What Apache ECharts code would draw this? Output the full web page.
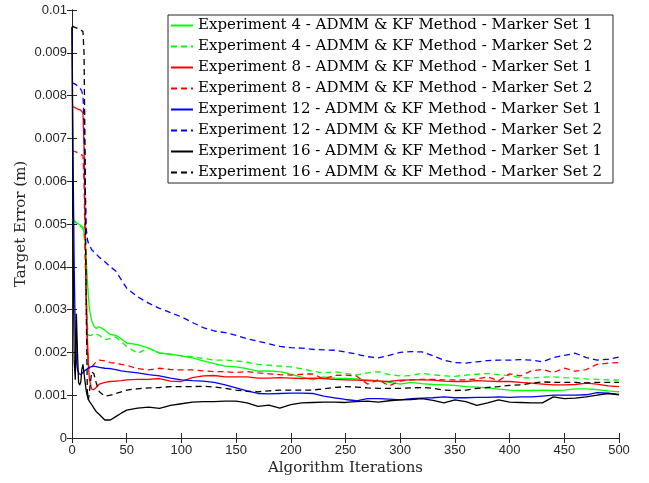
<!DOCTYPE html>
<html>
<head>
<meta charset="utf-8">
<title>Target Error vs Algorithm Iterations</title>
<script src="https://cdn.jsdelivr.net/npm/echarts@6/dist/echarts.min.js"></script>
<style>
  html, body { margin: 0; padding: 0; background: #fff; }
  #chart { width: 649px; height: 483px; }
</style>
</head>
<body>
<div id="chart"></div>
<script>
// iteration grid shared by all curves
const iterations = [0, 1, 2, 3, 4, 5, 6, 7, 8, 9, 10, 11, 12, 13, 14, 15, 16, 18, 20, 22, 25, 30, 35, 40, 45,
  50, 60, 70, 80, 90, 100, 110, 120, 130, 140, 150, 160, 170, 180, 190, 200, 210, 220, 230, 240, 250,
  260, 270, 280, 290, 300, 310, 320, 330, 340, 350, 360, 370, 380, 390, 400, 410, 420, 430, 440, 450,
  460, 470, 480, 490, 500]

const xTicks = [0, 50, 100, 150, 200, 250, 300, 350, 400, 450, 500]

const seriesNames = [
  'Experiment 4 - ADMM & KF Method - Marker Set 1',
  'Experiment 4 - ADMM & KF Method - Marker Set 2',
  'Experiment 8 - ADMM & KF Method - Marker Set 1',
  'Experiment 8 - ADMM & KF Method - Marker Set 2',
  'Experiment 12 - ADMM & KF Method - Marker Set 1',
  'Experiment 12 - ADMM & KF Method - Marker Set 2',
  'Experiment 16 - ADMM & KF Method - Marker Set 1',
  'Experiment 16 - ADMM & KF Method - Marker Set 2'
]

// target error (m), one value per iteration above
const exp4Set1 = [0.00512, 0.0051, 0.00508, 0.00505, 0.00503, 0.00502, 0.005, 0.00498, 0.00497, 0.00495, 0.00493, 0.0049, 0.0046, 0.0042, 0.0037, 0.0033, 0.003, 0.00274, 0.00262, 0.00256, 0.0026, 0.00252, 0.00242, 0.0024, 0.00232,
  0.00222, 0.00218, 0.0021, 0.00198, 0.00196, 0.00192, 0.00187, 0.0018, 0.00174, 0.00168, 0.00166, 0.00162, 0.00156, 0.00157, 0.00155, 0.00149, 0.00142, 0.00136, 0.00143, 0.0014, 0.00139,
  0.00138, 0.00136, 0.00134, 0.0013, 0.00126, 0.0013, 0.00127, 0.00125, 0.00124, 0.00123, 0.0012, 0.00119, 0.00117, 0.00114, 0.00112, 0.00111, 0.00111, 0.00112, 0.00111, 0.00112,
  0.00115, 0.00115, 0.00113, 0.0011, 0.00108]
const exp4Set2 = [0.0051, 0.00508, 0.00506, 0.00504, 0.00502, 0.005, 0.00498, 0.00496, 0.00494, 0.00492, 0.0049, 0.0048, 0.0042, 0.0033, 0.0026, 0.0024, 0.00237, 0.0024, 0.00244, 0.00243, 0.0024, 0.0023, 0.00232, 0.00236, 0.00225,
  0.00214, 0.00198, 0.0021, 0.00199, 0.00195, 0.00192, 0.0019, 0.00186, 0.00182, 0.00182, 0.0018, 0.00177, 0.00172, 0.0017, 0.00168, 0.00166, 0.00162, 0.00156, 0.00152, 0.00155, 0.00151,
  0.00147, 0.00152, 0.00155, 0.00148, 0.00145, 0.00146, 0.00151, 0.00148, 0.00145, 0.00144, 0.00147, 0.00149, 0.00151, 0.00148, 0.00146, 0.00141, 0.0014, 0.00142, 0.00143, 0.00141,
  0.0014, 0.00138, 0.00137, 0.00136, 0.00135]
const exp8Set1 = [0.00774, 0.00774, 0.00773, 0.00772, 0.0077, 0.00769, 0.00768, 0.00767, 0.00766, 0.00763, 0.0076, 0.0068, 0.005, 0.0035, 0.0024, 0.0017, 0.00135, 0.00114, 0.00113, 0.00118, 0.00126, 0.0013, 0.00132, 0.00133, 0.00134,
  0.00136, 0.00137, 0.00137, 0.00139, 0.00133, 0.00132, 0.00141, 0.00145, 0.00146, 0.00143, 0.00143, 0.00143, 0.0014, 0.0014, 0.00141, 0.0014, 0.00139, 0.0014, 0.00139, 0.00137, 0.00136,
  0.00135, 0.00134, 0.00133, 0.00132, 0.00135, 0.00136, 0.00136, 0.00135, 0.00133, 0.00132, 0.00132, 0.00134, 0.00133, 0.00132, 0.00132, 0.0013, 0.00128, 0.00126, 0.00124, 0.00124,
  0.00125, 0.00128, 0.00126, 0.00122, 0.0012]
const exp8Set2 = [0.00673, 0.00672, 0.0067, 0.00669, 0.00668, 0.00667, 0.00665, 0.00664, 0.00662, 0.00661, 0.0066, 0.006, 0.0045, 0.003, 0.0021, 0.0017, 0.0016, 0.00165, 0.00172, 0.00178, 0.00182, 0.0018, 0.00176, 0.00175, 0.00172,
  0.0017, 0.00162, 0.00159, 0.00163, 0.0016, 0.00159, 0.00159, 0.00157, 0.00155, 0.00155, 0.00153, 0.00155, 0.00152, 0.0015, 0.00148, 0.00147, 0.00149, 0.0015, 0.00138, 0.00146, 0.00147,
  0.00145, 0.00126, 0.00136, 0.00122, 0.00133, 0.00136, 0.00137, 0.00137, 0.00136, 0.00136, 0.00136, 0.00138, 0.00143, 0.00134, 0.0015, 0.00145, 0.00157, 0.0016, 0.00153, 0.00163,
  0.00156, 0.0016, 0.00172, 0.00175, 0.00176]
const exp12Set1 = [0.0096, 0.0065, 0.004, 0.0025, 0.0018, 0.0016, 0.00152, 0.00148, 0.00148, 0.0015, 0.00153, 0.00156, 0.00158, 0.0016, 0.00162, 0.00163, 0.00165, 0.00167, 0.00168, 0.00167, 0.00165, 0.00163, 0.00162, 0.0016, 0.00157,
  0.00155, 0.00152, 0.00148, 0.00145, 0.0014, 0.00136, 0.00134, 0.00133, 0.0013, 0.00124, 0.00117, 0.0011, 0.00104, 0.00103, 0.00104, 0.00105, 0.00105, 0.00104, 0.00098, 0.00094, 0.0009,
  0.00087, 0.00092, 0.00092, 0.00091, 0.00089, 0.00092, 0.00093, 0.00094, 0.00096, 0.00094, 0.00094, 0.00095, 0.00095, 0.00096, 0.00095, 0.00096, 0.00096, 0.00098, 0.001, 0.001,
  0.001, 0.00101, 0.00106, 0.00105, 0.00102]
const exp12Set2 = [0.0083, 0.00829, 0.00828, 0.00826, 0.00825, 0.00822, 0.0082, 0.00818, 0.00815, 0.0081, 0.008, 0.0074, 0.006, 0.0049, 0.00465, 0.00455, 0.0045, 0.0044, 0.00435, 0.0043, 0.00422, 0.00412, 0.004, 0.0039, 0.0037,
  0.0035, 0.0033, 0.00315, 0.00303, 0.00293, 0.00283, 0.0027, 0.00258, 0.0025, 0.00246, 0.0024, 0.00232, 0.00226, 0.0022, 0.00214, 0.00211, 0.0021, 0.00207, 0.00206, 0.00205, 0.00201,
  0.00196, 0.0019, 0.00187, 0.00193, 0.002, 0.00202, 0.00201, 0.00192, 0.00182, 0.00176, 0.00175, 0.00178, 0.00181, 0.00182, 0.00182, 0.00183, 0.00182, 0.00178, 0.00188, 0.00193,
  0.00198, 0.00188, 0.00182, 0.00184, 0.00189]
const exp16Set1 = [0.0096, 0.0045, 0.0018, 0.00136, 0.0029, 0.002, 0.0013, 0.00124, 0.0013, 0.0016, 0.00172, 0.00168, 0.0013, 0.0011, 0.00098, 0.0009, 0.00085, 0.00078, 0.0007, 0.00062, 0.00055, 0.00042, 0.00042, 0.0005, 0.00058,
  0.00065, 0.0007, 0.00072, 0.00069, 0.00076, 0.0008, 0.00084, 0.00085, 0.00085, 0.00086, 0.00086, 0.00082, 0.00074, 0.00077, 0.0007, 0.00078, 0.00082, 0.00083, 0.00084, 0.00084, 0.00083,
  0.00085, 0.00086, 0.00084, 0.00087, 0.00089, 0.0009, 0.00092, 0.00088, 0.00082, 0.00089, 0.00085, 0.00076, 0.00082, 0.00089, 0.00084, 0.00083, 0.00082, 0.00082, 0.00096, 0.00092,
  0.00093, 0.00096, 0.001, 0.00104, 0.00101]
const exp16Set2 = [0.00963, 0.00962, 0.0096, 0.00959, 0.00958, 0.00957, 0.00956, 0.00955, 0.00953, 0.00952, 0.0095, 0.009, 0.0065, 0.003, 0.0011, 0.00089, 0.0011, 0.00155, 0.0015, 0.0013, 0.00108, 0.00098, 0.001, 0.00104, 0.00108,
  0.00112, 0.00115, 0.00117, 0.00118, 0.0012, 0.0012, 0.0012, 0.00121, 0.00119, 0.00116, 0.00112, 0.00109, 0.00108, 0.0011, 0.00112, 0.00112, 0.00112, 0.00112, 0.00115, 0.00118, 0.0012,
  0.00119, 0.00117, 0.00116, 0.00116, 0.00116, 0.00117, 0.00118, 0.00116, 0.00112, 0.00111, 0.00112, 0.00116, 0.00118, 0.0012, 0.00123, 0.00124, 0.00128, 0.00131, 0.0013, 0.0013,
  0.0013, 0.00129, 0.0013, 0.0013, 0.0013]

const seriesValues = [exp4Set1, exp4Set2, exp8Set1, exp8Set2, exp12Set1, exp12Set2, exp16Set1, exp16Set2]
const seriesColors = ['#00ff00', '#00ff00', '#ff0000', '#ff0000', '#0000ff', '#0000ff', '#000000', '#000000']
const seriesDashed = [false, true, false, true, false, true, false, true]

const axisColor = '#262626'
const serifFont = 'DejaVu Serif'
const sansFont = 'Liberation Sans'

const chart = echarts.init(document.getElementById('chart'), null, { renderer: 'canvas' })

const series = seriesValues.map((vals, i) => ({
  name: seriesNames[i],
  type: 'line',
  xAxisIndex: 0,
  yAxisIndex: 0,
  symbol: 'none',
  animation: false,
  data: iterations.map((it, k) => [it, vals[k]]),
  lineStyle: {
    color: seriesColors[i],
    width: 1.3,
    type: seriesDashed[i] ? [6, 4] : 'solid'
  },
  itemStyle: { color: seriesColors[i] }
}))

// box axes (top/right) only carry ticks, like the MATLAB frame
const boxAxis = {
  min: 0,
  axisLine: { show: true, lineStyle: { color: axisColor, width: 1 } },
  axisTick: { show: true, inside: true, length: 5, lineStyle: { color: axisColor } },
  axisLabel: { show: false },
  splitLine: { show: false }
}

chart.setOption({
  backgroundColor: '#fff',
  animation: false,
  grid: { left: 72, right: 30, top: 10, bottom: 45 },
  legend: {
    orient: 'vertical',
    left: 168,
    top: 15,
    data: seriesNames,
    itemWidth: 22,
    itemHeight: 12,
    itemGap: 6,
    padding: [3, 11, 3, 2],
    borderColor: axisColor,
    borderWidth: 1,
    backgroundColor: '#fff',
    // hide the default circle marker, keep only the line sample
    itemStyle: { opacity: 0 },
    textStyle: { fontFamily: serifFont, fontSize: 15, color: '#000' }
  },
  xAxis: [
    {
      type: 'value',
      min: 0,
      max: 500,
      interval: 50,
      name: 'Algorithm Iterations',
      nameLocation: 'middle',
      nameGap: 23,
      nameMoveOverlap: false,
      nameTextStyle: { fontFamily: serifFont, fontSize: 15, color: axisColor },
      axisLine: { show: true, lineStyle: { color: axisColor, width: 1 } },
      axisTick: { show: true, inside: true, length: 5, lineStyle: { color: axisColor } },
      axisLabel: {
        fontFamily: sansFont, fontSize: 13, color: axisColor, margin: 6,
        customValues: xTicks
      },
      splitLine: { show: false }
    },
    Object.assign({ type: 'value', position: 'top', max: 500, interval: 50 }, boxAxis)
  ],
  yAxis: [
    {
      type: 'value',
      min: 0,
      max: 0.01,
      interval: 0.001,
      name: 'Target Error (m)',
      nameLocation: 'middle',
      nameGap: 43,
      nameMoveOverlap: false,
      nameTextStyle: { fontFamily: serifFont, fontSize: 15, color: axisColor },
      axisLine: { show: true, lineStyle: { color: axisColor, width: 1 } },
      axisTick: { show: true, inside: true, length: 5, lineStyle: { color: axisColor } },
      axisLabel: {
        fontFamily: sansFont, fontSize: 13, color: axisColor, margin: 5,
        formatter: v => String(+v.toFixed(3))
      },
      splitLine: { show: false }
    },
    Object.assign({ type: 'value', position: 'right', max: 0.01, interval: 0.001 }, boxAxis)
  ],
  series: series
})

window.addEventListener('resize', () => chart.resize())
</script>
</body>
</html>
